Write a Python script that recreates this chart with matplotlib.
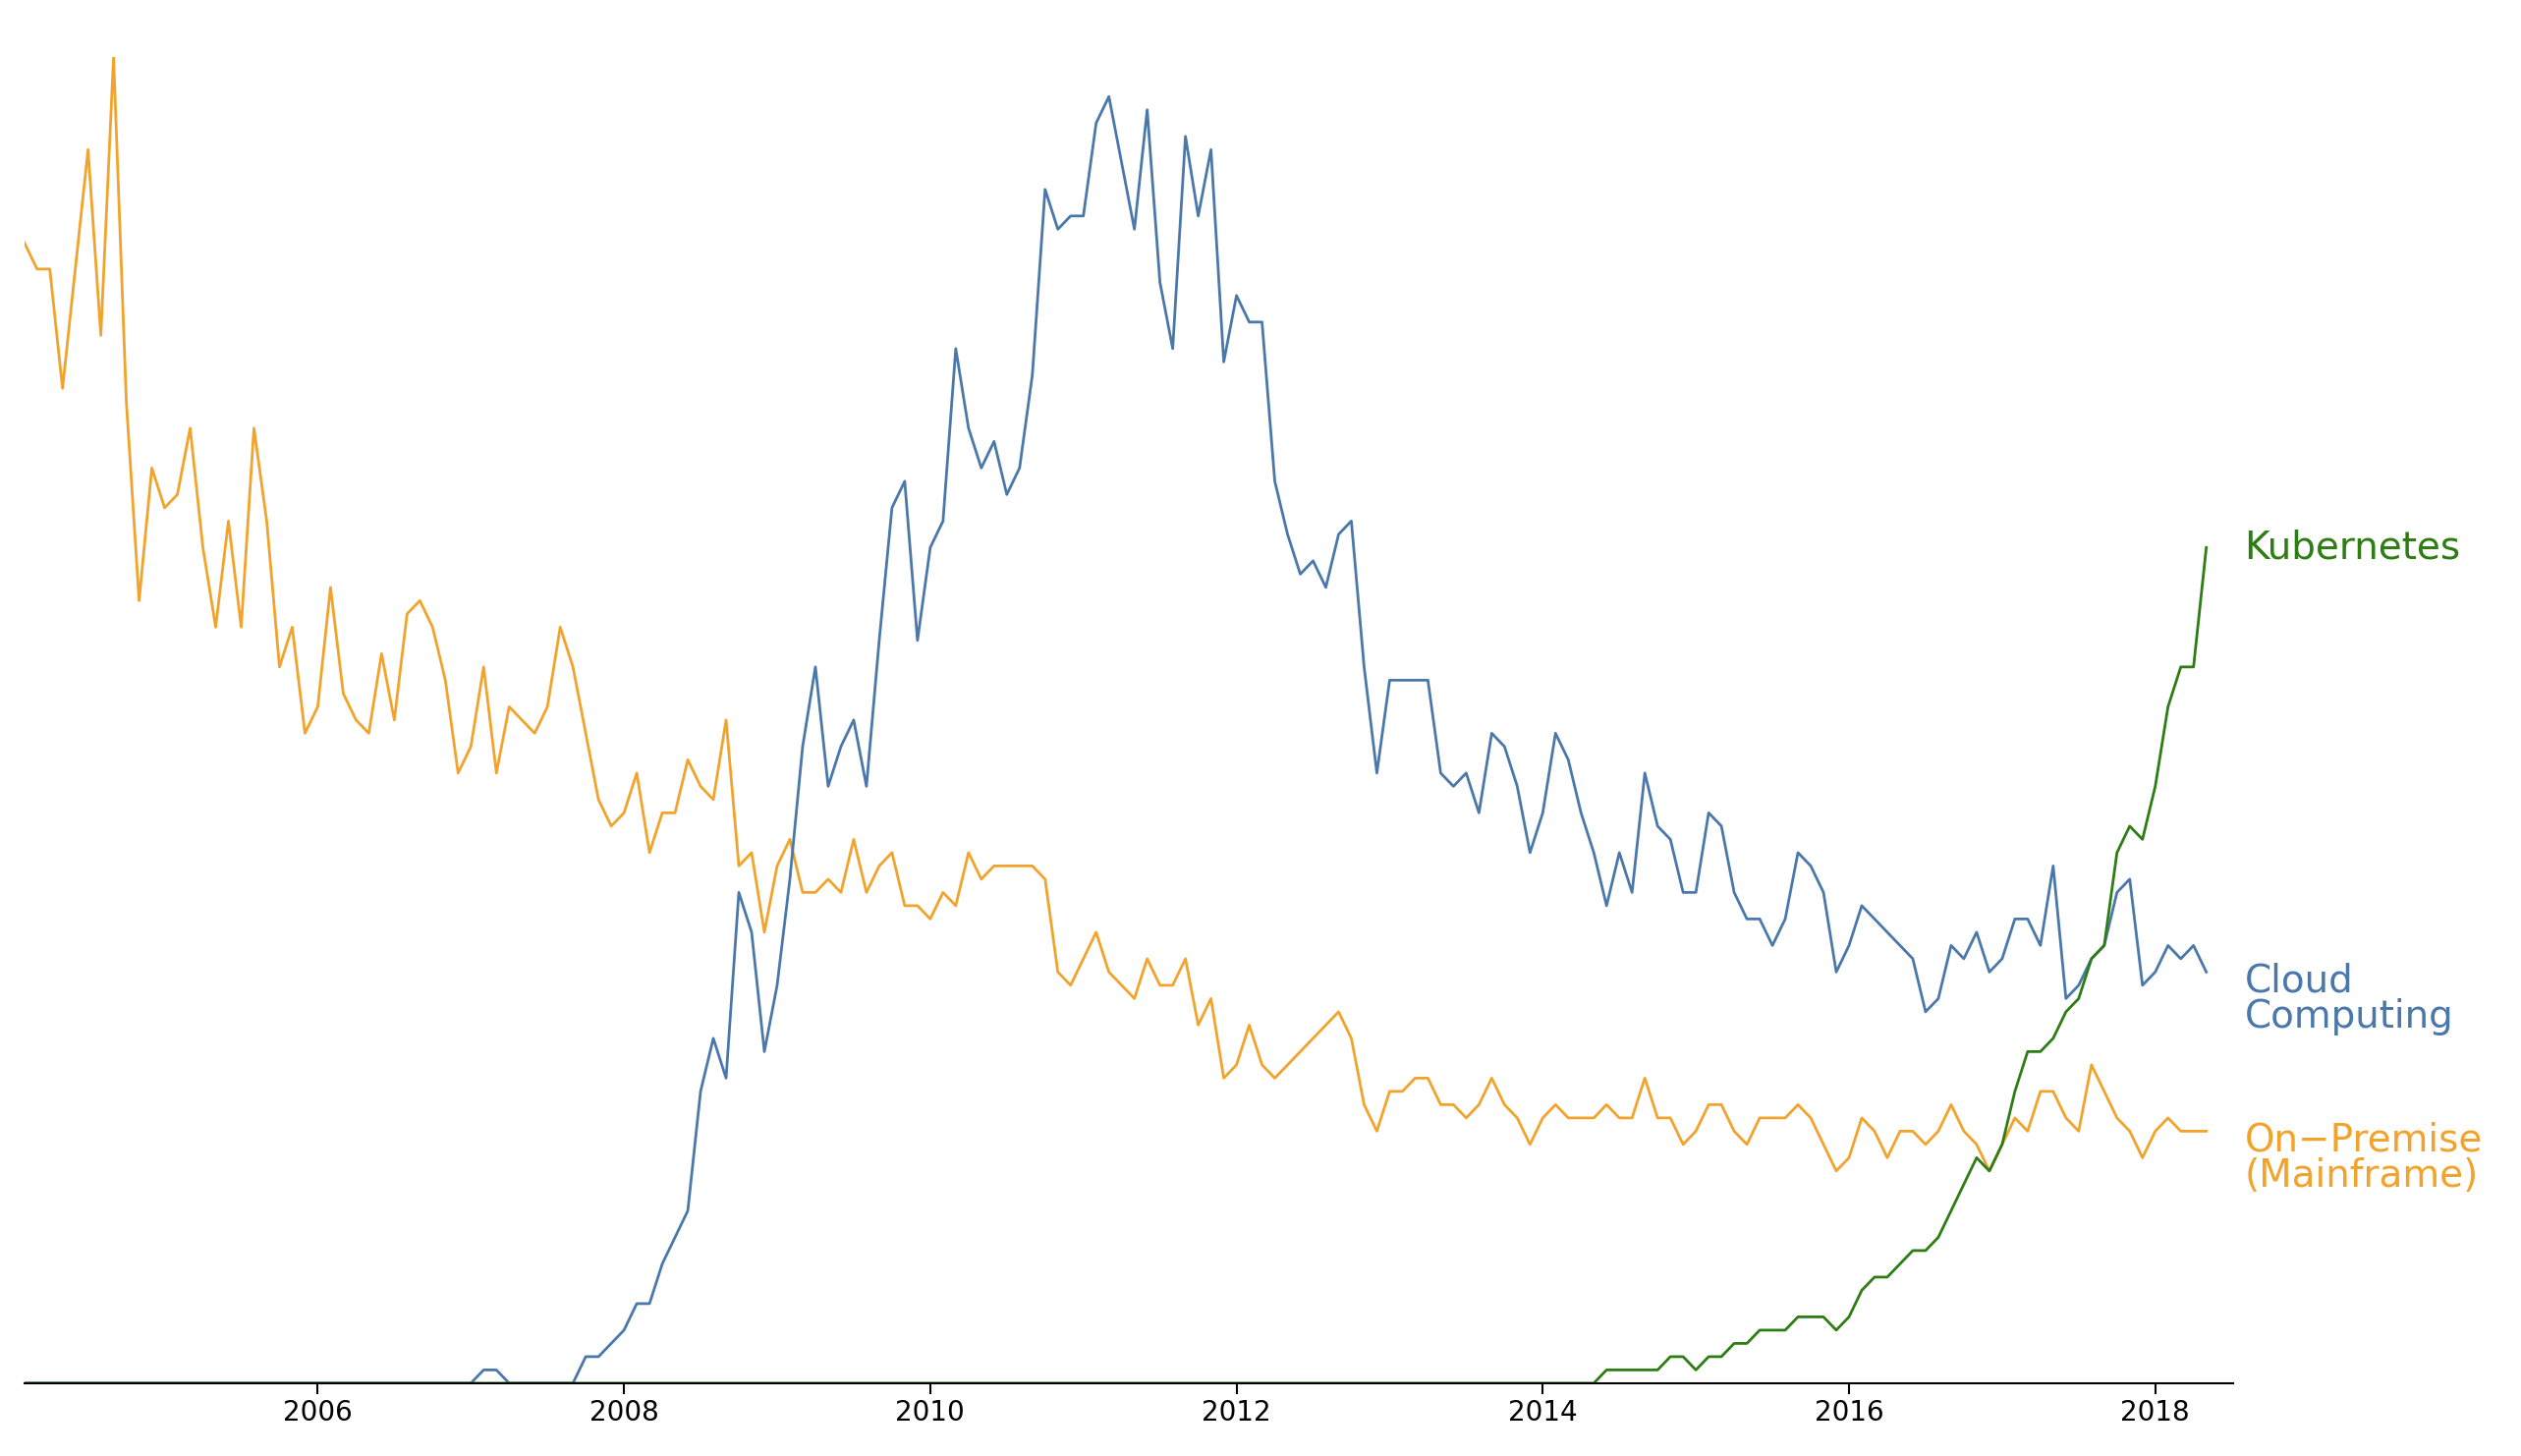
import matplotlib
matplotlib.use("Agg")
import matplotlib.pyplot as plt
import numpy as np

onprem = [86,84,84,75,84,93,79,100,74,59,69,66,67,72,63,57,65,57,72,65,54,57,49,51,60,52,50,49,55,50,
58,59,57,53,46,48,54,46,51,50,49,51,57,54,49,44,42,43,46,40,43,43,47,45,44,50,39,40,34,39,
41,37,37,38,37,41,37,39,40,36,36,35,37,36,40,38,39,39,39,39,38,31,30,32,34,31,30,29,32,30,
30,32,27,29,23,24,27,24,23,24,25,26,27,28,26,21,19,22,22,23,23,21,21,20,21,23,21,20,18,20,
21,20,20,20,21,20,20,23,20,20,18,19,21,21,19,18,20,20,20,21,20,18,16,17,20,19,17,19,19,18,
19,21,19,18,16,18,20,19,22,22,20,19,24,22,20,19,17,19,20,19,19,19]
cloud = [0]*36 + [1,1,0,0,0,0,0,0,2,2,3,4,6,6,9,11,13,22,26,23,37,34,25,30,38,48,54,45,48,50,
45,56,66,68,56,63,65,78,72,69,71,67,69,76,90,87,88,88,95,97,92,87,96,83,78,94,88,93,77,82,
80,80,68,64,61,62,60,64,65,54,46,53,53,53,53,46,45,46,43,49,48,45,40,43,49,47,43,40,36,40,
37,46,42,41,37,37,43,42,37,35,35,33,35,40,39,37,31,33,36,35,34,33,32,28,29,33,32,34,31,32,
35,35,33,39,29,30,32,33,37,38,30,31,33,32,33,31]
kube = [0]*124 + [1,1,1,1,1,2,2,1,2,2,3,3,4,4,4,5,5,5,4,5,7,8,8,9,10,10,11,13,15,17,16,18,22,25,25,26,
28,29,32,33,40,42,41,45,51,54,54,63]

n = len(onprem)
t = 2004 + (np.arange(n) + 1) / 12.0

fig = plt.figure(figsize=(25.66, 14.82), dpi=100)
ax = fig.add_axes([0.0096, 0.050, 0.8763, 0.911])
c_blue, c_or, c_gr = "#4a78ab", "#f2a32c", "#2d7d14"
ax.plot(t, onprem, color=c_or, lw=2)
ax.plot(t, cloud[:n], color=c_blue, lw=2)
ax.plot(t, kube[:n], color=c_gr, lw=2)
ax.set_xlim(2004.083, 2018.51)
ax.set_ylim(0, 100)
for s in ["top", "right", "left"]:
    ax.spines[s].set_visible(False)
ax.spines["bottom"].set_linewidth(1.5)
ax.set_yticks([])
ax.set_xticks([2006, 2008, 2010, 2012, 2014, 2016, 2018])
ax.tick_params(axis="x", labelsize=20, length=8, width=1.5)
ax.annotate("Kubernetes", (t[-1], kube[n-1]), xytext=(28, 0), textcoords="offset points",
            color=c_gr, fontsize=28, va="center", annotation_clip=False)
ax.annotate("Cloud\nComputing", (t[-1], 29), xytext=(28, 0), textcoords="offset points",
            color=c_blue, fontsize=28, va="center", linespacing=0.95, annotation_clip=False)
ax.annotate("On\u2212Premise\n(Mainframe)", (t[-1], 17), xytext=(28, 0), textcoords="offset points",
            color=c_or, fontsize=28, va="center", linespacing=0.95, annotation_clip=False)
fig.savefig("out.png", dpi=100)
